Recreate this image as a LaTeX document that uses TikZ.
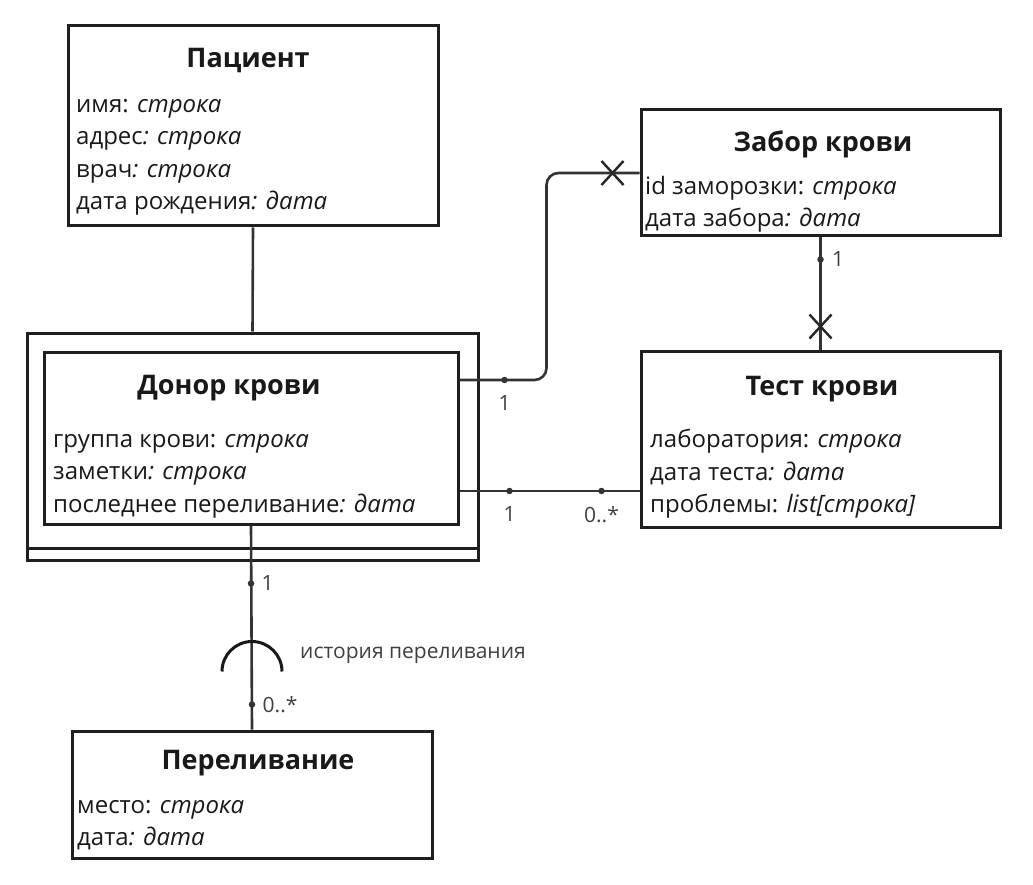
\documentclass[tikz,border=0pt]{standalone}
\usepackage{fontspec}
\setmainfont{Open Sans}
\usetikzlibrary{positioning, calc}
\newcommand{\crossmark}[1]{%
  \draw[xmark] ($(#1)+(-11,-12)$) -- ($(#1)+(11,12)$)
               ($(#1)+(-11,12)$) -- ($(#1)+(11,-12)$);}
\tikzset{
  % --- boxes ---
  entity/.style = {draw=black!88, line width=3pt, fill=white, inner sep=0pt},
  etitle/.style = {font=\bfseries\fontsize{27}{31}\selectfont, text=black!90, inner sep=0pt},
  attrs/.style  = {font=\fontsize{24}{32.5}\selectfont, text=black!90, align=left,
                   inner sep=0pt, anchor=north west, execute at begin node=\strut},
  % --- connectors ---
  link/.style   = {draw=black!80, line width=2.6pt},
  dot/.style    = {circle, fill=black!80, inner sep=0pt, minimum size=6.5pt},
  card/.style   = {font=\fontsize{21}{24}\selectfont, text=black!75, inner sep=1pt},
  xmark/.style  = {draw=black!85, line width=2.4pt},
}

\begin{document}
\begin{tikzpicture}[x=1pt, y=-1pt]
  \fill[white] (0,0) rectangle (1033,885);
  \useasboundingbox (0,0) rectangle (1033,885);

  % ===== entities =====
  \node[entity, minimum width=370pt, minimum height=200pt] (pat) at (253,126) {};
  \node[etitle] (patT) at (248,61) {Пациент};
  \node[attrs]  (patA) at (76,99) {имя: \textit{строка}\\адрес\textit{: строка}\\врач\textit{: строка}\\дата рождения\textit{: дата}};

  \node[entity, minimum width=451pt, minimum height=227pt] (outer) at (252.5,446.5) {};
  \draw[entity] ([yshift=13pt]outer.south west) -- ([yshift=13pt]outer.south east);
  \node[entity, minimum width=414pt, minimum height=172pt] (donor) at (251,438) {};
  \node[etitle] (donorT) at (229,388) {Донор крови};
  \node[attrs]  (donorA) at (53,434) {группа крови: \textit{строка}\\заметки\textit{: строка}\\последнее переливание\textit{: дата}};

  \node[entity, minimum width=359pt, minimum height=126pt] (sample) at (820.5,173) {};
  \node[etitle] (sampleT) at (823,144) {Забор крови};
  \node[attrs]  (sampleA) at (645,176) {id заморозки: \textit{строка}\\дата забора\textit{: дата}};

  \node[entity, minimum width=359pt, minimum height=176pt] (test) at (820.5,439) {};
  \node[etitle] (testT) at (822,389) {Тест крови};
  \node[attrs]  (testA) at (650,429) {лаборатория: \textit{строка}\\дата теста\textit{: дата}\\проблемы: \textit{list[строка]}};

  \node[entity, minimum width=360pt, minimum height=127pt] (transf) at (252,794.5) {};
  \node[etitle] (transfT) at (258,763) {Переливание};
  \node[attrs]  (transfA) at (77,800) {место: \textit{строка}\\дата\textit{: дата}};

  % ===== connectors =====
  \draw[link] (pat.south) -- (outer.north);

  % donor -> sample
  \draw[link, rounded corners=12pt] ([yshift=58pt]donor.east) -- ++(87,0) |- (sample.west);
  \node[dot] (dSd) at ([xshift=45pt, yshift=58pt]donor.east) {};
  \node[card, below=11pt of dSd] {1};
  \coordinate (xS) at ([xshift=-27pt]sample.west);
  \crossmark{xS}

  % donor -> test
  \coordinate (dT) at ([yshift=-53pt]donor.east);
  \draw[link] (dT) -- (dT -| test.west);
  \node[dot] (dTd) at ([xshift=50pt]dT) {};
  \node[dot] (dTt) at ($(dT -| test.west)+(-38,0)$) {};
  \node[card, below=11pt of dTd] {1};
  \node[card, below=11pt of dTt] {0..*};

  % sample -> test
  \draw[link] (sample.south) -- (test.north);
  \node[dot] (sTs) at ([yshift=-22pt]sample.south) {};
  \node[card, right=7pt of sTs] {1};
  \coordinate (xT) at ([yshift=23pt]test.north);
  \crossmark{xT}

  % donor -> transfusion (history)
  \draw[link] (donor.south) -- (transf.north);
  \node[dot] (dHd) at ([yshift=-58pt]donor.south) {};
  \node[card, right=6pt of dHd] {1};
  \node[dot] (dHt) at ([yshift=25pt]transf.north) {};
  \node[card, right=6pt of dHt] {0..*};
  \coordinate (hc) at ([yshift=58pt]transf.north);
  \draw[link, line width=3pt, draw=black!90] ([xshift=-30pt]hc) arc[start angle=180, end angle=360, radius=30];
  \node[card, anchor=west] (hist) at (299,655) {история переливания};

\end{tikzpicture}
\end{document}
